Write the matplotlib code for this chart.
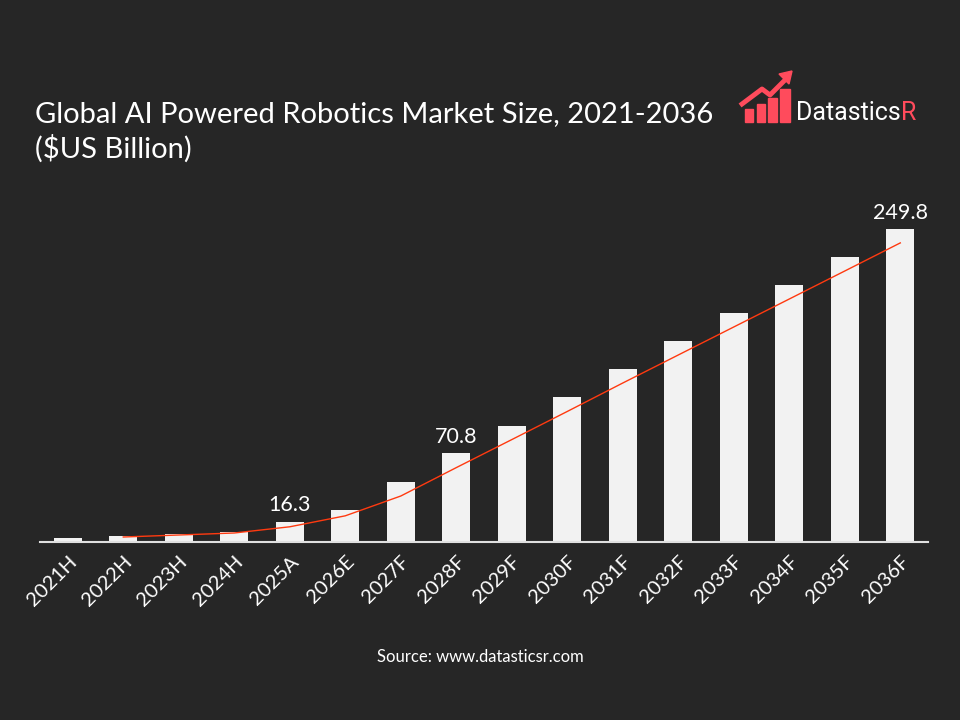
import numpy as np
import matplotlib.pyplot as plt
from matplotlib.patches import Rectangle, Polygon

years = ["2021H", "2022H", "2023H", "2024H", "2025A", "2026E", "2027F", "2028F",
         "2029F", "2030F", "2031F", "2032F", "2033F", "2034F", "2035F", "2036F"]
market_size = [3.2, 4.8, 6.4, 8.0, 16.3, 25.5, 47.9, 70.8,
               92.6, 115.7, 138.0, 160.4, 182.7, 205.0, 227.4, 249.8]
labelled = {"2025A": "16.3", "2028F": "70.8", "2036F": "249.8"}

bg = "#262626"
bar_color = "#f2f2f2"
red = "#ff4b5c"

plt.rcParams['font.family'] = ['Lato', 'DejaVu Sans']

fig = plt.figure(figsize=(9.6, 7.2), dpi=100, facecolor=bg)
ax = fig.add_axes([0.0417, 0.2472, 0.925, 0.4875])
ax.set_facecolor(bg)

x = np.arange(len(years))
ax.bar(x, market_size, width=0.5, color=bar_color, zorder=2)

# 2-period moving average trendline
vals = np.array(market_size)
trend = (vals[1:] + vals[:-1]) / 2
ax.plot(x[1:], trend, color="#ff3a10", lw=1.0, zorder=3)

for i, yr in enumerate(years):
    if yr in labelled:
        ax.text(i, market_size[i] + 5, labelled[yr], ha='center', va='bottom',
                color='white', fontsize=15.5)

ax.set_xlim(-0.5, len(years) - 0.5)
ax.set_ylim(0, 280)
ax.set_yticks([])
ax.set_xticks(x)
ax.set_xticklabels(years, rotation=45, ha='right', rotation_mode='anchor',
                   color='white', fontsize=14.5)
ax.tick_params(axis='x', length=0, pad=8)
for s in ['top', 'right', 'left']:
    ax.spines[s].set_visible(False)
ax.spines['bottom'].set_color('#e0e0e0')
ax.spines['bottom'].set_linewidth(1.5)

fig.text(0.036, 1 - 132 / 720, "Global AI Powered Robotics Market Size, 2021-2036\n($US Billion)",
         ha='left', va='center', color='white', fontsize=21, linespacing=1.35)

fig.text(0.5, 1 - 657 / 720, "Source: www.datasticsr.com", ha='center', va='center',
         color='white', fontsize=12)

# logo
bars = [(745, 109, 8), (757, 104, 8), (768, 98, 9), (780, 89, 10)]
for bx, by, bw in bars:
    fig.patches.append(Rectangle((bx / 960, 1 - 122 / 720), bw / 960, (122 - by) / 720,
                                 transform=fig.transFigure, color=red))
arrow_pts = [(742, 104), (762, 89), (770, 95), (785, 80)]
fig.lines.append(plt.Line2D([p[0] / 960 for p in arrow_pts], [1 - p[1] / 720 for p in arrow_pts],
                            transform=fig.transFigure, color=red, lw=3.5))
fig.patches.append(Polygon([(779 / 960, 1 - 74 / 720), (792 / 960, 1 - 71 / 720), (789 / 960, 1 - 84 / 720)],
                           closed=True, transform=fig.transFigure, color=red))
t = fig.text(796 / 960, 1 - 113 / 720, "Datastics", ha='left', va='center', color='white',
             fontsize=18, family=['Roboto', 'DejaVu Sans'])
fig.canvas.draw()
bb = t.get_window_extent()
fig.text(bb.x1 / 960, 1 - 113 / 720, "R", ha='left', va='center', color=red,
         fontsize=18, family=['Roboto', 'DejaVu Sans'])

fig.savefig("out.png", dpi=100, facecolor=bg)
